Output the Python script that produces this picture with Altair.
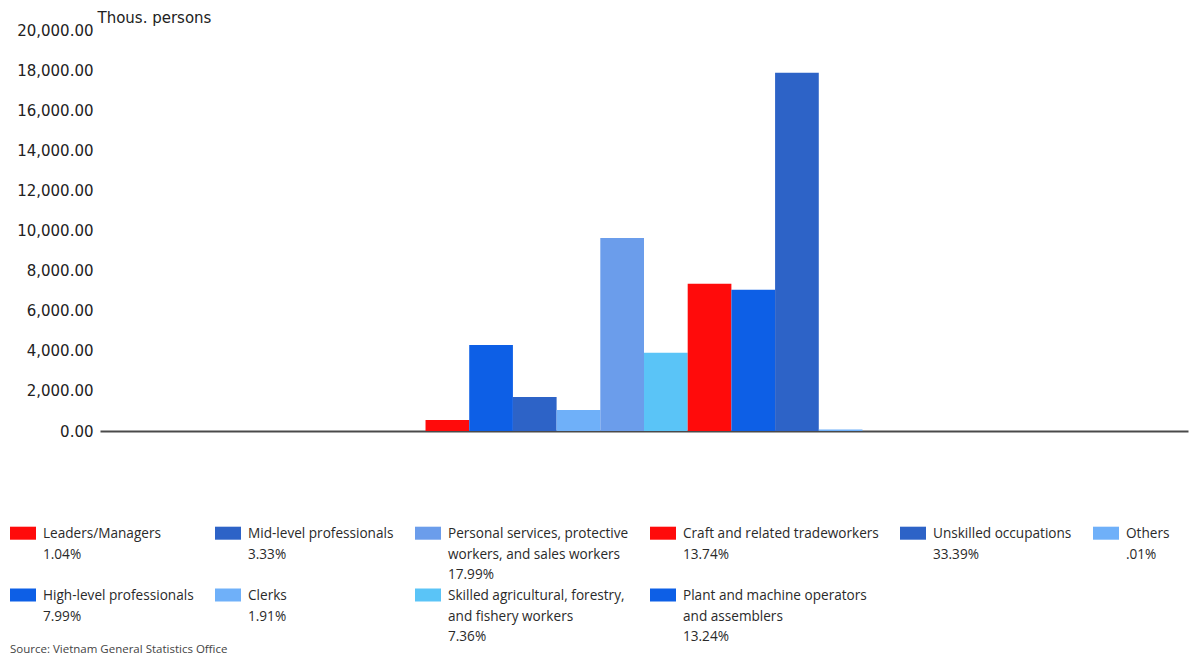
import altair as alt
import pandas as pd

# ---- data ----
categories = [
    "Leaders/Managers",
    "High-level professionals",
    "Mid-level professionals",
    "Clerks",
    "Personal services, protective workers, and sales workers",
    "Skilled agricultural, forestry, and fishery workers",
    "Craft and related tradeworkers",
    "Plant and machine operators and assemblers",
    "Unskilled occupations",
    "Others",
]
values = [550, 4290, 1700, 1050, 9630, 3900, 7340, 7050, 17870, 80]
percents = ["1.04%", "7.99%", "3.33%", "1.91%", "17.99%", " 7.36%", "13.74%", "13.24%", "33.39%", ".01%"]
legend_text = [
    "Leaders/Managers",
    "High-level professionals",
    "Mid-level professionals",
    "Clerks",
    "Personal services, protective|workers, and sales workers",
    "Skilled agricultural, forestry,|and fishery workers",
    "Craft and related tradeworkers",
    "Plant and machine operators|and assemblers",
    "Unskilled occupations",
    "Others",
]
colors = ["#ff0b0b", "#0d5fe6", "#2d63c7", "#6fb0f9", "#6b9deb",
          "#5ac4f7", "#ff0b0b", "#0d5fe6", "#2d63c7", "#6fb0f9"]
legend_order = [0, 2, 4, 6, 8, 9, 1, 3, 5, 7]
y_ticks = list(range(0, 20001, 2000))
source = "Source: Vietnam General Statistics Office"


def legend_label(t, p):
    lines = t.split("|") + [p]
    while len(lines) < 3:
        lines.append(" ")
    return "|".join(lines)


df = pd.DataFrame({
    "grp": ["all"] * len(categories),
    "cat": categories,
    "value": values,
    "label": [legend_label(t, p) for t, p in zip(legend_text, percents)],
})
leg_domain = [df["label"][i] for i in legend_order]
leg_range = [colors[i] for i in legend_order]

bars = alt.Chart(df).mark_bar().encode(
    x=alt.X("grp:N",
            scale=alt.Scale(paddingInner=0, paddingOuter=0.745),
            axis=alt.Axis(title=None, labels=False, ticks=False,
                          domainColor="#4a4a4a", domainWidth=2)),
    xOffset=alt.XOffset("cat:N", sort=categories,
                        scale=alt.Scale(paddingInner=0, paddingOuter=0)),
    y=alt.Y("value:Q",
            scale=alt.Scale(domain=[0, 20000], nice=False),
            axis=alt.Axis(values=y_ticks, format=",.2f", grid=False, ticks=False,
                          domain=False, labelFont="DejaVu Sans", labelFontSize=15,
                          labelColor="#222", labelPadding=7, labelOffset=-5,
                          title="Thous. persons", titleAngle=0, titleX=-3, titleY=-13,
                          titleAlign="left", titleBaseline="middle",
                          titleFont="DejaVu Sans", titleFontSize=15,
                          titleFontWeight="normal", titleColor="#222")),
    color=alt.Color("label:N",
                    scale=alt.Scale(domain=leg_domain, range=leg_range),
                    legend=alt.Legend(
                        title=None, orient="none", legendX=-90, legendY=490,
                        columns=6, direction="horizontal",
                        columnPadding=21, rowPadding=0,
                        labelExpr="split(datum.label, '|')",
                        labelFont="Open Sans", labelFontSize=13.6, labelColor="#2a2a2a",
                        labelLimit=400, labelOffset=7, labelBaseline="alphabetic",
                        symbolType="M-1,-0.5H1V0.5H-1Z", symbolSize=676,
                        symbolStrokeWidth=0, symbolOpacity=1)),
)

src = alt.Chart(pd.DataFrame({"t": [source]})).mark_text(
    align="left", baseline="middle", font="Open Sans", fontSize=11.5, color="#444"
).encode(text="t:N", x=alt.value(-90), y=alt.value(620))

chart = alt.layer(bars, src).properties(
    width=1088, height=401,
    padding={"left": 100, "top": 30, "right": 9, "bottom": 228},
    autosize=alt.AutoSizeParams(type="none"),
).configure(style={"guide-label": {"lineHeight": 20.5, "dy": 5}}).configure_view(stroke=None)

chart.save("out.html", embed_options={"renderer": "svg", "actions": False})
